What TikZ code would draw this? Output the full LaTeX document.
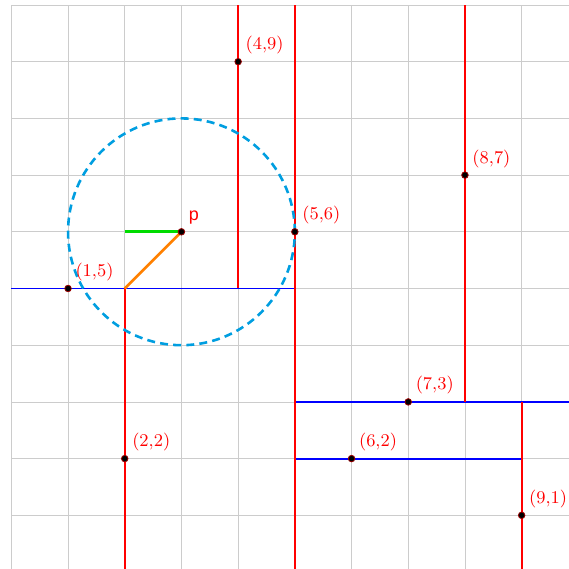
\documentclass[tikz,border=0pt]{standalone}
\usepackage{fontspec}
\newfontfamily\labelsans{Liberation Sans}
\definecolor{circblue}{RGB}{0,158,224}
\definecolor{splitorange}{RGB}{255,128,0}
\definecolor{splitgreen}{RGB}{0,220,0}
\begin{document}
\begin{tikzpicture}[
  every node/.style={font=\small},
  dot/.style={circle,fill=black,draw=red!60!black,inner sep=0pt,minimum size=3.3pt},
  pt/.style={text=red,label distance=-1.5pt},
  vsplit/.style={red,line width=1pt},
  hsplit/.style={blue,line width=1pt}]
\useasboundingbox (-0.2,0.053) rectangle (9.835,10.088);
\draw[gray!40,line width=0.4pt] (0,0) grid (10,10);
% splitting lines
\draw[hsplit] (0,5) -- (5,5);
\draw[hsplit] (5,3) -- (10,3);
\draw[hsplit] (5,2) -- (9,2);
\draw[vsplit] (5,0) -- (5,10);
\draw[vsplit] (2,0) -- (2,5);
\draw[vsplit] (4,5) -- (4,10);
\draw[vsplit] (9,0) -- (9,3);
\draw[vsplit] (8,3) -- (8,10);
% query
\draw[circblue,line width=1.3pt,dash pattern=on 4pt off 2.6pt] (3,6) circle (2);
\draw[splitgreen,line width=1.3pt] (2,6) -- (3,6);
\draw[splitorange,line width=1.3pt] (2,5) -- (3,6);
% points
\node[dot,label={[pt]above right:(1,5)}] (a) at (1,5) {};
\node[dot,label={[pt]above right:(2,2)}] (b) at (2,2) {};
\node[dot,label={[pt]above right:(4,9)}] (c) at (4,9) {};
\node[dot,label={[pt]above right:(5,6)}] (d) at (5,6) {};
\node[dot,label={[pt]above right:(6,2)}] (e) at (6,2) {};
\node[dot,label={[pt]above right:(7,3)}] (f) at (7,3) {};
\node[dot,label={[pt]above right:(8,7)}] (g) at (8,7) {};
\node[dot,label={[pt]above right:(9,1)}] (h) at (9,1) {};
\node[dot,label={[pt,font=\small\labelsans]above right:p}] (p) at (3,6) {};
\end{tikzpicture}
\end{document}
